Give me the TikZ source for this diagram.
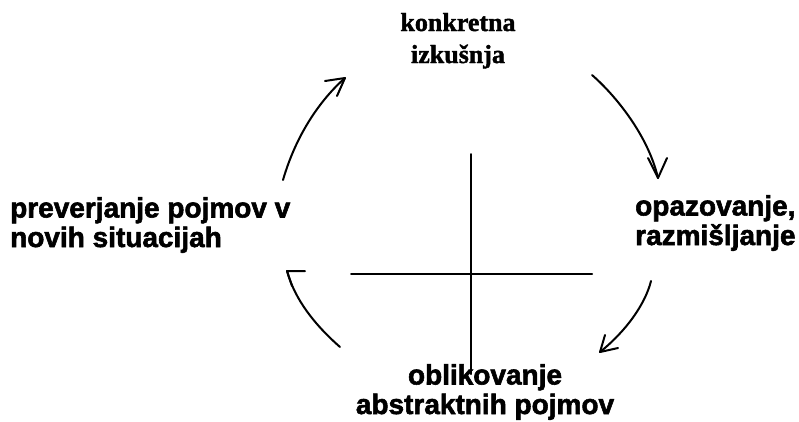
\documentclass[tikz,border=0pt]{standalone}
\usepackage{fontspec}
\setmainfont{Liberation Serif}[BoldFeatures={FakeBold=1.5}]
\newfontfamily\sansb{Liberation Sans}[UprightFont={* Bold}, UprightFeatures={FakeBold=2}]
\tikzset{
  lbl/.style={inner sep=0pt, font=\sansb\fontsize{28}{29.5}\selectfont, align=left},
  toplbl/.style={inner sep=0pt, font=\bfseries\fontsize{26}{32}\selectfont, align=center},
  ln/.style={line width=2pt, line cap=round, line join=round},
}
\begin{document}
\begin{tikzpicture}[x=1pt,y=-1pt]
\useasboundingbox (0,0) rectangle (799,421);
% labels (anchor base = baseline of last line)
\node[toplbl, anchor=base] (top) at (458,63) {konkretna\\izkušnja};
\node[lbl, anchor=base west] (left) at (10,247) {preverjanje pojmov v\\novih situacijah};
\node[lbl, anchor=base west] (right) at (635,245) {opazovanje,\\razmišljanje};
\node[lbl, align=center, anchor=base] (bottom) at (485,414) {oblikovanje\\abstraktnih pojmov};
% cross
\coordinate (hl) at (351,274); \coordinate (hr) at (592,274);
\coordinate (vt) at (471,154); \coordinate (vb) at (471,374);
\draw[ln] (hl) -- (hr);
\draw[ln] (vt) -- (vb);
% arrow 1 (left, up)
\coordinate (a1s) at (283,180); \coordinate (a1t) at (345,78);
\draw[ln] (a1s) .. controls (296,135) and (320,100) .. (a1t);
\draw[ln] (325,81) -- (a1t) -- (337,96);
% arrow 2 (top right, down)
\coordinate (a2s) at (592,75); \coordinate (a2t) at (658,178);
\draw[ln] (a2s) .. controls (615,95) and (648,135) .. (a2t);
\draw[ln] (648,158) -- (a2t) -- (667,158);
% arrow 3 (right, down-left)
\coordinate (a3s) at (651,281); \coordinate (a3t) at (600,352);
\draw[ln] (a3s) .. controls (645,305) and (625,332) .. (a3t);
\draw[ln] (605,335) -- (a3t) -- (618,348);
% arrow 4 (bottom left, up)
\coordinate (a4s) at (340,347); \coordinate (a4t) at (287,271);
\draw[ln] (a4s) .. controls (315,325) and (295,300) .. (a4t);
\draw[ln] (305,271) -- (a4t) -- (292,286);
\end{tikzpicture}
\end{document}
